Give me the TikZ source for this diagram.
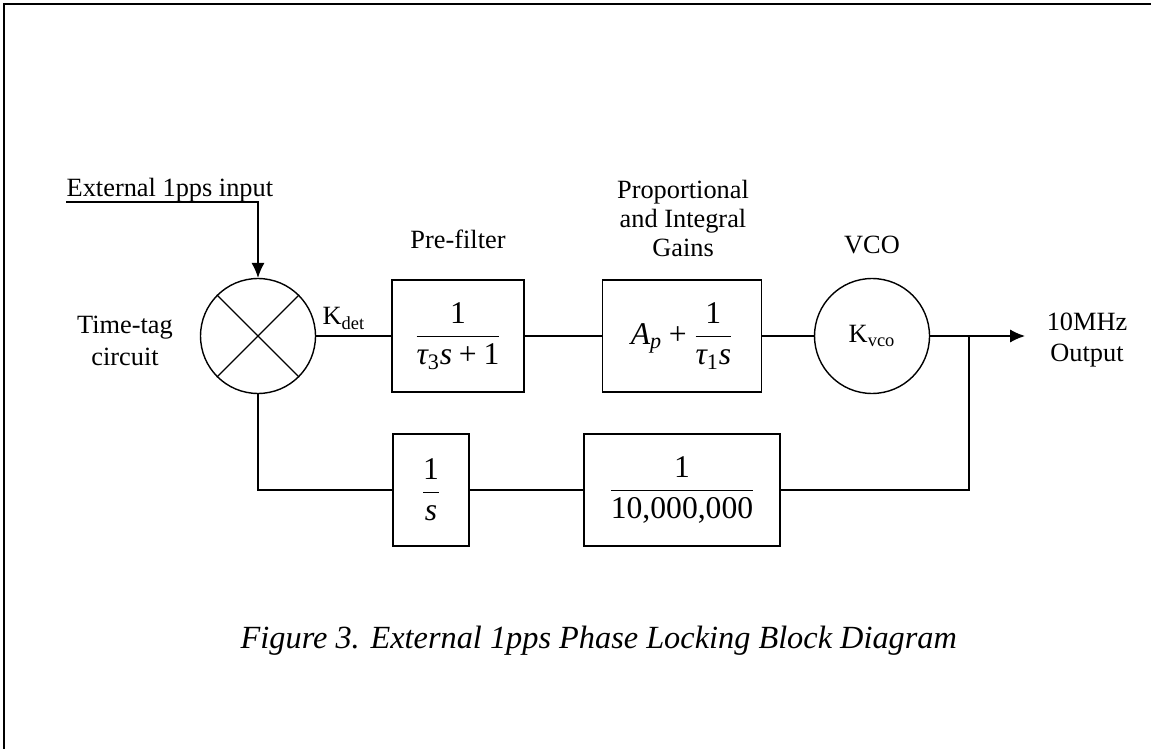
\documentclass[tikz,border=0pt]{standalone}
\usepackage{amsmath}
\usepackage{fontspec}
\setmainfont{Liberation Serif}
\usetikzlibrary{positioning,arrows.meta}
\newcommand\iv[1]{\text{\itshape #1}}
\newcommand\nv[1]{\text{#1}}
\begin{document}
\begin{tikzpicture}[>={Latex[length=8.5pt,width=7.5pt]}, x=.02cm, y=-.02cm, line width=.8pt,
	blk/.style={draw, minimum width=#1, minimum height=2.24cm, inner sep=0pt},
	rnd/.style={draw, circle, minimum size=2.3cm, inner sep=0pt},
	lbl/.style={font=\fontsize{15}{18}\selectfont, align=center, inner sep=0pt},
	eq/.style={font=\fontsize{18}{21}\selectfont}]
    \useasboundingbox (0,0) rectangle (1151,749);
    \draw[line width=1pt] (4,749)--(4,4)--(1151,4);
    % forward path
    \node[rnd] (sum) at (258,336) {};
    \draw (sum.north west)--(sum.south east) (sum.north east)--(sum.south west);
    \node[blk=2.64cm, eq] (pre) at (458,336) {$\displaystyle\frac{\nv{1}}{\iv{τ}_{\nv{3}}\iv{s}\mathbin{\nv{+}}\nv{1}}$};
    \node[blk=3.18cm, eq] (pi) at (682,336) {$\displaystyle\iv{A}_{\iv{p}}\mathbin{\nv{+}}\frac{\nv{1}}{\iv{τ}_{\nv{1}}\iv{s}}$};
    \node[rnd, lbl] (vco) at (872,336) {K\textsubscript{vco}};
    \coordinate (jn) at (969,336);
    \coordinate (out) at (1025,336);
    % feedback path
    \node[blk=1.52cm, eq] (inv) at (431,490) {$\displaystyle\frac{\nv{1}}{\iv{s}}$};
    \node[blk=3.92cm, eq] (div) at (682,490) {$\displaystyle\frac{\nv{1}}{\nv{10,000,000}}$};
    \coordinate (fbr) at (969,490);
    \coordinate (fbl) at (258,490);
    \coordinate (in) at (66,202);
    % labels
    \node[lbl, anchor=base west] (inlbl) at (66,197) {External 1pps input};
    \node[lbl] (ttag) at (125,341) {Time-tag\\circuit};
    \node[lbl, anchor=base west] (kdet) at (322,325) {K\textsubscript{det}};
    \node[lbl, anchor=base] (prelbl) at (458,249) {Pre-filter};
    \node[lbl, font=\fontsize{15}{16.5}\selectfont] (pilbl) at (683,218) {Proportional\\and Integral\\Gains};
    \node[lbl, anchor=base] (vcolbl) at (872,254) {VCO};
    \node[lbl] (outlbl) at (1087,340) {10MHz\\Output};
    \node[anchor=base west, inner sep=0pt, font=\fontsize{18.4}{22}\selectfont\itshape] (cap) at (240,648) {Figure 3. External 1pps Phase Locking Block Diagram};
    % connectors
    \draw[->] (in)-|(sum);
    \draw (sum)--(pre); \draw (pre)--(pi); \draw (pi)--(vco);
    \draw[->] (vco)--(out);
    \draw (jn)--(fbr)--(div); \draw (div)--(inv); \draw (inv)--(fbl)--(sum);
\end{tikzpicture}
\end{document}
